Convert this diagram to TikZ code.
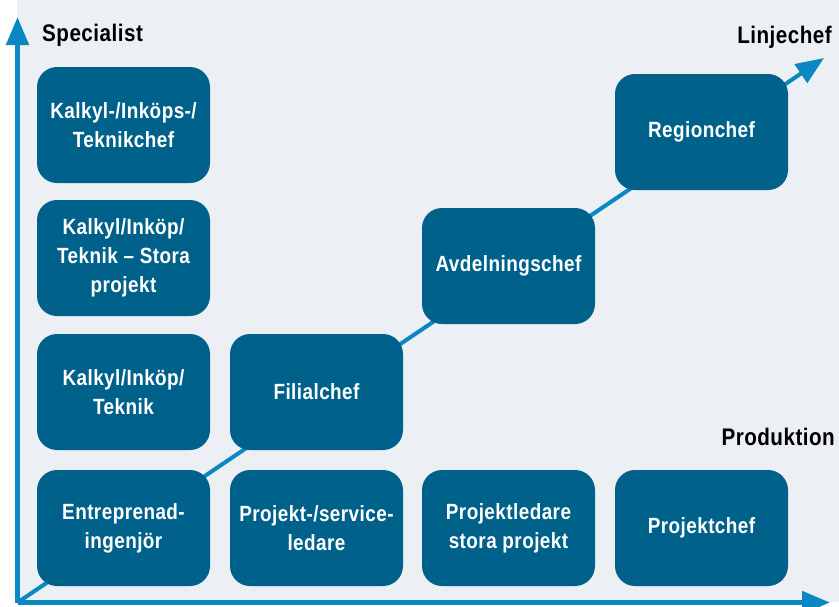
\documentclass[tikz,border=0pt]{standalone}
\usepackage{fontspec}
\setmainfont{Liberation Sans}[FakeStretch=0.86, LetterSpace=2]
\usetikzlibrary{arrows.meta}
\definecolor{boxblue}{HTML}{00628A}
\definecolor{axisblue}{HTML}{0A88C2}
\definecolor{bggrey}{HTML}{ECEFF3}

\begin{document}
\begin{tikzpicture}[x=1pt, y=-1pt]
    \tikzstyle{role} = [rectangle, rounded corners=20pt, fill=boxblue, text=white, align=center, minimum width=173pt, minimum height=116pt, inner sep=0pt, font=\bfseries\fontsize{22}{29}\selectfont]
    \tikzstyle{axislabel} = [font=\bfseries\fontsize{24}{28}\selectfont, inner sep=0pt]
    \tikzstyle{axis} = [axisblue, line width=5pt, -{Triangle[length=28pt, width=22pt]}]
    \useasboundingbox (0,0) rectangle (839,606);
    \fill[bggrey] (17,0) rectangle (839,602);
    % axes end points
    \coordinate (origin) at (17.5,602.5);
    \coordinate (ytip) at (17.5,17);
    \coordinate (xtip) at (830,602.5);
    \coordinate (dtip) at (824,58);
    % line career
    \draw[axis, line width=4pt] (origin) -- (dtip);
    % specialist column
    \node[role] (kalkylchef) at (123.5,125) {Kalkyl-/Inköps-/\\Teknikchef};
    \node[role] (kalkylstora) at (123.5,258) {Kalkyl/Inköp/\\Teknik – Stora\\projekt};
    \node[role] (kalkyl) at (123.5,392) {Kalkyl/Inköp/\\Teknik};
    % production row
    \node[role] (entreprenad) at (123.5,528) {Entreprenad-\\ingenjör};
    \node[role] (projektledare) at (316.5,528) {Projekt-/service-\\ledare};
    \node[role] (projektstora) at (508.5,528) {Projektledare\\stora projekt};
    \node[role] (projektchef) at (701.5,528) {Projektchef};
    % line managers
    \node[role] (filialchef) at (316.5,392) {Filialchef};
    \node[role] (avdelningschef) at (508.5,266) {Avdelningschef};
    \node[role] (regionchef) at (701.5,132) {Regionchef};
    % axes
    \draw[axis] (origin) -- (ytip);
    \draw[axis] (origin) -- (xtip);
    \node[axislabel, anchor=west] (specialist) at (42,35) {Specialist};
    \node[axislabel, anchor=east] (linjechef) at (832,37) {Linjechef};
    \node[axislabel, anchor=east] (produktion) at (835,437) {Produktion};
\end{tikzpicture}
\end{document}
